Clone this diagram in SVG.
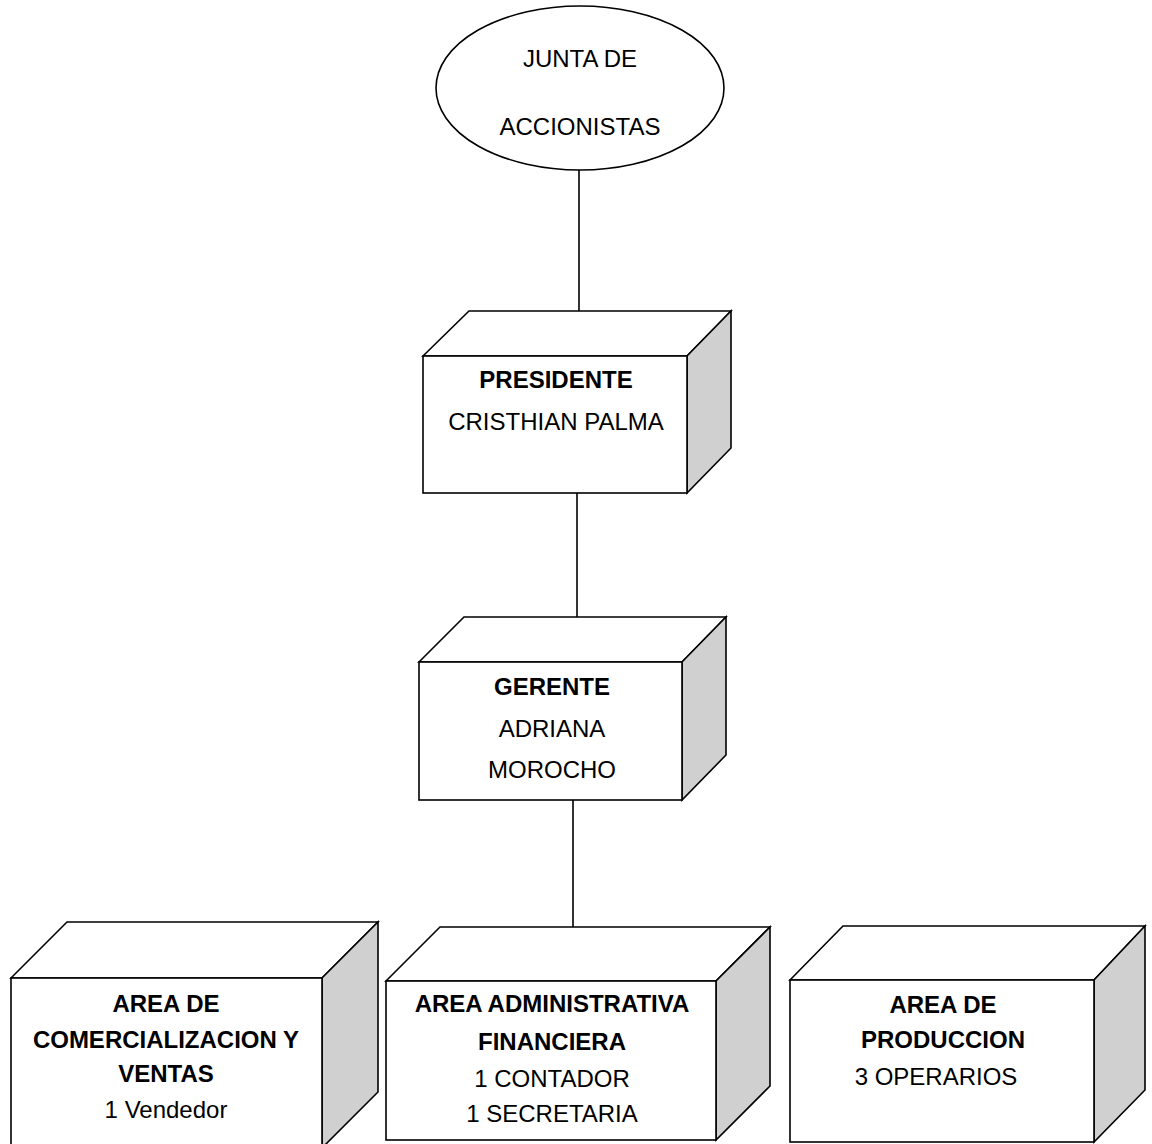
<svg xmlns="http://www.w3.org/2000/svg" width="1152" height="1144" viewBox="0 0 1152 1144">
<style>
.face{fill:#ffffff;stroke:#000;stroke-width:1.6;stroke-linejoin:miter}
.side{fill:#d0d0d0;stroke:#000;stroke-width:1.6}
.t{font-family:"Liberation Sans",Arial,sans-serif;font-size:24px;fill:#000;text-anchor:middle}
.b{font-weight:bold}
.conn{stroke:#000;stroke-width:1.6;fill:none}
</style>
<rect width="1152" height="1144" fill="#fff"/>
<g id="connectors">
<line class="conn" x1="579" y1="170" x2="579" y2="311"/>
<line class="conn" x1="577" y1="493" x2="577" y2="617"/>
<line class="conn" x1="573" y1="800" x2="573" y2="927"/>
</g>
<g id="junta">
<ellipse class="face" cx="580" cy="88" rx="144" ry="82"/>
<text class="t" x="580" y="67">JUNTA DE</text>
<text class="t" x="580" y="135">ACCIONISTAS</text>
</g>
<g id="presidente">
<polygon class="face" points="423,356 469,311 731,311 687,356"/>
<polygon class="side" points="687,356 731,311 731,448 687,493"/>
<rect class="face" x="423" y="356" width="264" height="137"/>
<text class="t b" x="556" y="388">PRESIDENTE</text>
<text class="t" x="556" y="430">CRISTHIAN PALMA</text>
</g>
<g id="gerente">
<polygon class="face" points="419,662 464,617 726,617 682,662"/>
<polygon class="side" points="682,662 726,617 726,755 682,800"/>
<rect class="face" x="419" y="662" width="263" height="138"/>
<text class="t b" x="552" y="695">GERENTE</text>
<text class="t" x="552" y="737">ADRIANA</text>
<text class="t" x="552" y="778">MOROCHO</text>
</g>
<g id="comercializacion">
<polygon class="face" points="11,978 67,922 378,922 322,978"/>
<polygon class="side" points="322,978 378,922 378,1092 322,1148"/>
<rect class="face" x="11" y="978" width="311" height="170"/>
<text class="t b" x="166" y="1012">AREA DE</text>
<text class="t b" x="166" y="1048">COMERCIALIZACION Y</text>
<text class="t b" x="166" y="1082">VENTAS</text>
<text class="t" x="166" y="1118">1 Vendedor</text>
</g>
<g id="administrativa">
<polygon class="face" points="386,981 440,927 770,927 716,981"/>
<polygon class="side" points="716,981 770,927 770,1086 716,1140"/>
<rect class="face" x="386" y="981" width="330" height="159"/>
<text class="t b" x="552" y="1012">AREA ADMINISTRATIVA</text>
<text class="t b" x="552" y="1050">FINANCIERA</text>
<text class="t" x="552" y="1087">1 CONTADOR</text>
<text class="t" x="552" y="1122">1 SECRETARIA</text>
</g>
<g id="produccion">
<polygon class="face" points="790,980 843,926 1145,926 1094,980"/>
<polygon class="side" points="1094,980 1145,926 1145,1090 1094,1142"/>
<rect class="face" x="790" y="980" width="304" height="162"/>
<text class="t b" x="943" y="1013">AREA DE</text>
<text class="t b" x="943" y="1048">PRODUCCION</text>
<text class="t" x="936" y="1085">3 OPERARIOS</text>
</g>
</svg>
